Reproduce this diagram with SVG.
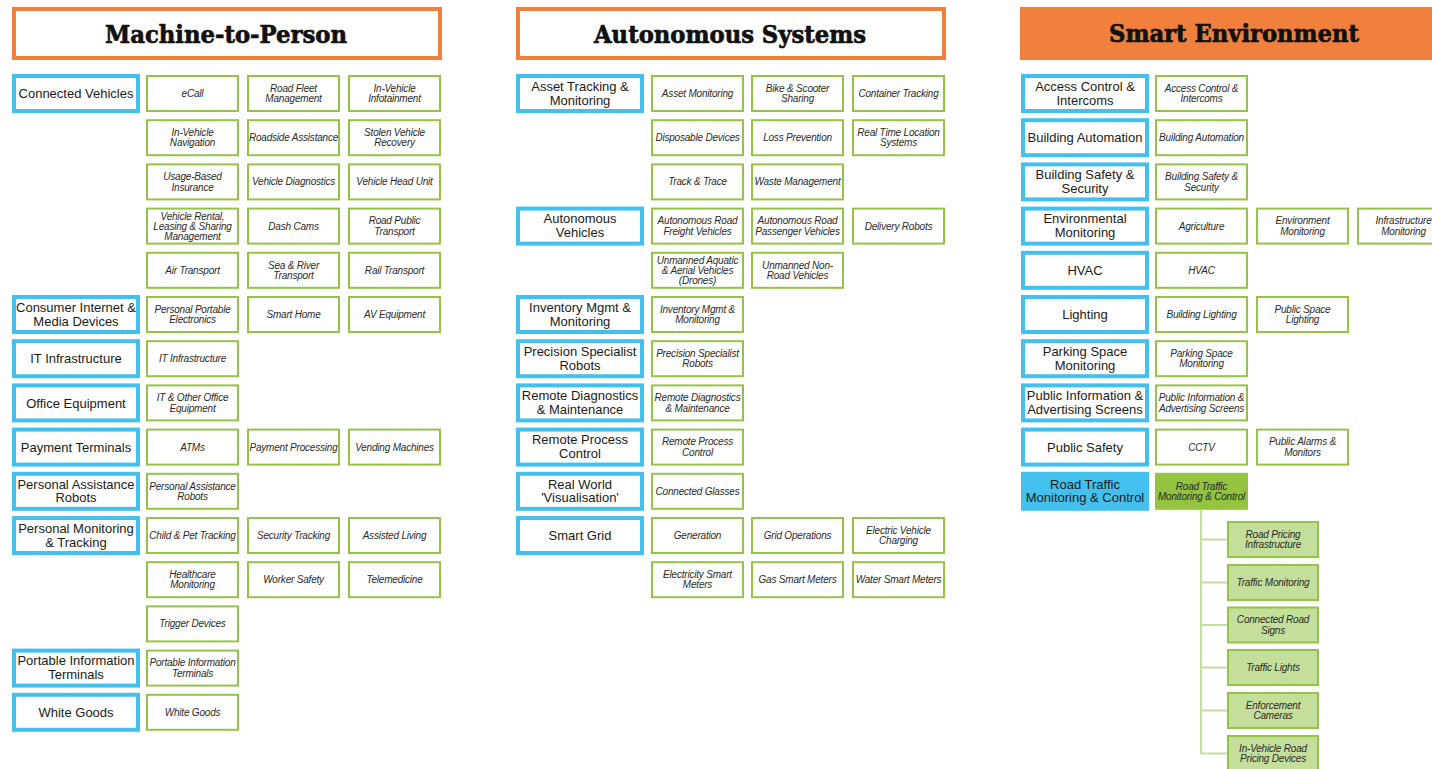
<svg xmlns="http://www.w3.org/2000/svg" width="1432" height="769" viewBox="0 0 1432 769">
<style>
.hdo{fill:#fff;stroke:#F0803C;stroke-width:4}
.hdf{fill:#F0803C;stroke:none}
.ht{font-family:"DejaVu Serif","Liberation Serif",serif;font-weight:bold;font-size:24px;fill:#111;stroke:#111;stroke-width:0.7;text-anchor:middle}
.cat rect{fill:#fff;stroke:#44C0EE;stroke-width:4}
.ct{font-family:"Liberation Sans",Arial,sans-serif;font-size:13px;fill:#1a1a1a;text-anchor:middle}
.sub rect{fill:#fff;stroke:#93C447;stroke-width:2}
.st{font-family:"Liberation Sans",Arial,sans-serif;font-style:italic;font-size:10px;letter-spacing:-0.2px;fill:#2a2a2a;text-anchor:middle}
.catf rect{fill:#44C0EE;stroke:none}
.subf rect{fill:#93C33F;stroke:none}
.subl rect{fill:#C4DF9B;stroke:#93C447;stroke-width:2}
.conn line{stroke:#C4DF9B;stroke-width:2}
</style>
<rect width="1432" height="769" fill="#fff"/>
<g id="hdr-m2p"><rect class="hdo" x="14" y="9" width="426" height="49"/><text class="ht" x="226" y="42.5" textLength="242" lengthAdjust="spacingAndGlyphs">Machine-to-Person</text></g>
<g id="hdr-auto"><rect class="hdo" x="518" y="9" width="426" height="49"/><text class="ht" x="730" y="42.5" textLength="272" lengthAdjust="spacingAndGlyphs">Autonomous Systems</text></g>
<g id="hdr-env"><rect class="hdf" x="1020" y="7" width="430" height="53"/><text class="ht" x="1234" y="42" textLength="250" lengthAdjust="spacingAndGlyphs">Smart Environment</text></g>

<!-- Column 1 categories -->
<g id="c1-connected-vehicles" class="cat" transform="translate(12,75)"><rect x="2" y="1" width="124" height="35"/><text class="ct" x="64" y="23.2">Connected Vehicles</text></g>
<g id="c1-consumer" class="cat" transform="translate(12,296)"><rect x="2" y="1" width="124" height="35"/><text class="ct"><tspan x="64" y="15.8">Consumer Internet &amp;</tspan><tspan x="64" y="29.5">Media Devices</tspan></text></g>
<g id="c1-it-infra" class="cat" transform="translate(12,340.2)"><rect x="2" y="1" width="124" height="35"/><text class="ct" x="64" y="23.2">IT Infrastructure</text></g>
<g id="c1-office" class="cat" transform="translate(12,384.4)"><rect x="2" y="1" width="124" height="35"/><text class="ct" x="64" y="23.2">Office Equipment</text></g>
<g id="c1-payment" class="cat" transform="translate(12,428.6)"><rect x="2" y="1" width="124" height="35"/><text class="ct" x="64" y="23.2">Payment Terminals</text></g>
<g id="c1-pers-assist" class="cat" transform="translate(12,472.8)"><rect x="2" y="1" width="124" height="35"/><text class="ct"><tspan x="64" y="15.8">Personal Assistance</tspan><tspan x="64" y="29.5">Robots</tspan></text></g>
<g id="c1-pers-monitor" class="cat" transform="translate(12,517)"><rect x="2" y="1" width="124" height="35"/><text class="ct"><tspan x="64" y="15.8">Personal Monitoring</tspan><tspan x="64" y="29.5">&amp; Tracking</tspan></text></g>
<g id="c1-portable" class="cat" transform="translate(12,649.6)"><rect x="2" y="1" width="124" height="35"/><text class="ct"><tspan x="64" y="15.8">Portable Information</tspan><tspan x="64" y="29.5">Terminals</tspan></text></g>
<g id="c1-white-goods" class="cat" transform="translate(12,693.8)"><rect x="2" y="1" width="124" height="35"/><text class="ct" x="64" y="23.2">White Goods</text></g>

<!-- Column 1 sub items -->
<g id="s1-ecall" class="sub" transform="translate(146,75)"><rect x="1" y="1" width="91" height="35"/><text class="st" x="46.5" y="22">eCall</text></g>
<g id="s1-road-fleet" class="sub" transform="translate(247,75)"><rect x="1" y="1" width="91" height="35"/><text class="st"><tspan x="46.5" y="16.8">Road Fleet</tspan><tspan x="46.5" y="27.3">Management</tspan></text></g>
<g id="s1-infotainment" class="sub" transform="translate(348,75)"><rect x="1" y="1" width="91" height="35"/><text class="st"><tspan x="46.5" y="16.8">In-Vehicle</tspan><tspan x="46.5" y="27.3">Infotainment</tspan></text></g>
<g id="s1-navigation" class="sub" transform="translate(146,119.2)"><rect x="1" y="1" width="91" height="35"/><text class="st"><tspan x="46.5" y="16.8">In-Vehicle</tspan><tspan x="46.5" y="27.3">Navigation</tspan></text></g>
<g id="s1-roadside" class="sub" transform="translate(247,119.2)"><rect x="1" y="1" width="91" height="35"/><text class="st" x="46.5" y="22">Roadside Assistance</text></g>
<g id="s1-stolen" class="sub" transform="translate(348,119.2)"><rect x="1" y="1" width="91" height="35"/><text class="st"><tspan x="46.5" y="16.8">Stolen Vehicle</tspan><tspan x="46.5" y="27.3">Recovery</tspan></text></g>
<g id="s1-ubi" class="sub" transform="translate(146,163.4)"><rect x="1" y="1" width="91" height="35"/><text class="st"><tspan x="46.5" y="16.8">Usage-Based</tspan><tspan x="46.5" y="27.3">Insurance</tspan></text></g>
<g id="s1-diag" class="sub" transform="translate(247,163.4)"><rect x="1" y="1" width="91" height="35"/><text class="st" x="46.5" y="22">Vehicle Diagnostics</text></g>
<g id="s1-headunit" class="sub" transform="translate(348,163.4)"><rect x="1" y="1" width="91" height="35"/><text class="st" x="46.5" y="22">Vehicle Head Unit</text></g>
<g id="s1-rental" class="sub" transform="translate(146,207.6)"><rect x="1" y="1" width="91" height="35"/><text class="st"><tspan x="46.5" y="12.4">Vehicle Rental,</tspan><tspan x="46.5" y="22.2">Leasing &amp; Sharing</tspan><tspan x="46.5" y="32">Management</tspan></text></g>
<g id="s1-dashcams" class="sub" transform="translate(247,207.6)"><rect x="1" y="1" width="91" height="35"/><text class="st" x="46.5" y="22">Dash Cams</text></g>
<g id="s1-roadpublic" class="sub" transform="translate(348,207.6)"><rect x="1" y="1" width="91" height="35"/><text class="st"><tspan x="46.5" y="16.8">Road Public</tspan><tspan x="46.5" y="27.3">Transport</tspan></text></g>
<g id="s1-air" class="sub" transform="translate(146,251.8)"><rect x="1" y="1" width="91" height="35"/><text class="st" x="46.5" y="22">Air Transport</text></g>
<g id="s1-sea" class="sub" transform="translate(247,251.8)"><rect x="1" y="1" width="91" height="35"/><text class="st"><tspan x="46.5" y="16.8">Sea &amp; River</tspan><tspan x="46.5" y="27.3">Transport</tspan></text></g>
<g id="s1-rail" class="sub" transform="translate(348,251.8)"><rect x="1" y="1" width="91" height="35"/><text class="st" x="46.5" y="22">Rail Transport</text></g>
<g id="s1-ppe" class="sub" transform="translate(146,296)"><rect x="1" y="1" width="91" height="35"/><text class="st"><tspan x="46.5" y="16.8">Personal Portable</tspan><tspan x="46.5" y="27.3">Electronics</tspan></text></g>
<g id="s1-smarthome" class="sub" transform="translate(247,296)"><rect x="1" y="1" width="91" height="35"/><text class="st" x="46.5" y="22">Smart Home</text></g>
<g id="s1-av" class="sub" transform="translate(348,296)"><rect x="1" y="1" width="91" height="35"/><text class="st" x="46.5" y="22">AV Equipment</text></g>
<g id="s1-itinfra" class="sub" transform="translate(146,340.2)"><rect x="1" y="1" width="91" height="35"/><text class="st" x="46.5" y="22">IT Infrastructure</text></g>
<g id="s1-office" class="sub" transform="translate(146,384.4)"><rect x="1" y="1" width="91" height="35"/><text class="st"><tspan x="46.5" y="16.8">IT &amp; Other Office</tspan><tspan x="46.5" y="27.3">Equipment</tspan></text></g>
<g id="s1-atms" class="sub" transform="translate(146,428.6)"><rect x="1" y="1" width="91" height="35"/><text class="st" x="46.5" y="22">ATMs</text></g>
<g id="s1-payproc" class="sub" transform="translate(247,428.6)"><rect x="1" y="1" width="91" height="35"/><text class="st" x="46.5" y="22">Payment Processing</text></g>
<g id="s1-vending" class="sub" transform="translate(348,428.6)"><rect x="1" y="1" width="91" height="35"/><text class="st" x="46.5" y="22">Vending Machines</text></g>
<g id="s1-persassist" class="sub" transform="translate(146,472.8)"><rect x="1" y="1" width="91" height="35"/><text class="st"><tspan x="46.5" y="16.8">Personal Assistance</tspan><tspan x="46.5" y="27.3">Robots</tspan></text></g>
<g id="s1-childpet" class="sub" transform="translate(146,517)"><rect x="1" y="1" width="91" height="35"/><text class="st" x="46.5" y="22">Child &amp; Pet Tracking</text></g>
<g id="s1-security" class="sub" transform="translate(247,517)"><rect x="1" y="1" width="91" height="35"/><text class="st" x="46.5" y="22">Security Tracking</text></g>
<g id="s1-assisted" class="sub" transform="translate(348,517)"><rect x="1" y="1" width="91" height="35"/><text class="st" x="46.5" y="22">Assisted Living</text></g>
<g id="s1-healthcare" class="sub" transform="translate(146,561.2)"><rect x="1" y="1" width="91" height="35"/><text class="st"><tspan x="46.5" y="16.8">Healthcare</tspan><tspan x="46.5" y="27.3">Monitoring</tspan></text></g>
<g id="s1-worker" class="sub" transform="translate(247,561.2)"><rect x="1" y="1" width="91" height="35"/><text class="st" x="46.5" y="22">Worker Safety</text></g>
<g id="s1-telemed" class="sub" transform="translate(348,561.2)"><rect x="1" y="1" width="91" height="35"/><text class="st" x="46.5" y="22">Telemedicine</text></g>
<g id="s1-trigger" class="sub" transform="translate(146,605.4)"><rect x="1" y="1" width="91" height="35"/><text class="st" x="46.5" y="22">Trigger Devices</text></g>
<g id="s1-portable" class="sub" transform="translate(146,649.6)"><rect x="1" y="1" width="91" height="35"/><text class="st"><tspan x="46.5" y="16.8">Portable Information</tspan><tspan x="46.5" y="27.3">Terminals</tspan></text></g>
<g id="s1-whitegoods" class="sub" transform="translate(146,693.8)"><rect x="1" y="1" width="91" height="35"/><text class="st" x="46.5" y="22">White Goods</text></g>

<!-- Column 2 categories -->
<g id="c2-asset" class="cat" transform="translate(516,75)"><rect x="2" y="1" width="124" height="35"/><text class="ct"><tspan x="64" y="15.8">Asset Tracking &amp;</tspan><tspan x="64" y="29.5">Monitoring</tspan></text></g>
<g id="c2-autonomous" class="cat" transform="translate(516,207.6)"><rect x="2" y="1" width="124" height="35"/><text class="ct"><tspan x="64" y="15.8">Autonomous</tspan><tspan x="64" y="29.5">Vehicles</tspan></text></g>
<g id="c2-inventory" class="cat" transform="translate(516,296)"><rect x="2" y="1" width="124" height="35"/><text class="ct"><tspan x="64" y="15.8">Inventory Mgmt &amp;</tspan><tspan x="64" y="29.5">Monitoring</tspan></text></g>
<g id="c2-precision" class="cat" transform="translate(516,340.2)"><rect x="2" y="1" width="124" height="35"/><text class="ct"><tspan x="64" y="15.8">Precision Specialist</tspan><tspan x="64" y="29.5">Robots</tspan></text></g>
<g id="c2-remotediag" class="cat" transform="translate(516,384.4)"><rect x="2" y="1" width="124" height="35"/><text class="ct"><tspan x="64" y="15.8">Remote Diagnostics</tspan><tspan x="64" y="29.5">&amp; Maintenance</tspan></text></g>
<g id="c2-remoteproc" class="cat" transform="translate(516,428.6)"><rect x="2" y="1" width="124" height="35"/><text class="ct"><tspan x="64" y="15.8">Remote Process</tspan><tspan x="64" y="29.5">Control</tspan></text></g>
<g id="c2-realworld" class="cat" transform="translate(516,472.8)"><rect x="2" y="1" width="124" height="35"/><text class="ct"><tspan x="64" y="15.8">Real World</tspan><tspan x="64" y="29.5">'Visualisation'</tspan></text></g>
<g id="c2-smartgrid" class="cat" transform="translate(516,517)"><rect x="2" y="1" width="124" height="35"/><text class="ct" x="64" y="23.2">Smart Grid</text></g>

<!-- Column 2 sub items -->
<g id="s2-assetmon" class="sub" transform="translate(651,75)"><rect x="1" y="1" width="91" height="35"/><text class="st" x="46.5" y="22">Asset Monitoring</text></g>
<g id="s2-bike" class="sub" transform="translate(751,75)"><rect x="1" y="1" width="91" height="35"/><text class="st"><tspan x="46.5" y="16.8">Bike &amp; Scooter</tspan><tspan x="46.5" y="27.3">Sharing</tspan></text></g>
<g id="s2-container" class="sub" transform="translate(852,75)"><rect x="1" y="1" width="91" height="35"/><text class="st" x="46.5" y="22">Container Tracking</text></g>
<g id="s2-disposable" class="sub" transform="translate(651,119.2)"><rect x="1" y="1" width="91" height="35"/><text class="st" x="46.5" y="22">Disposable Devices</text></g>
<g id="s2-loss" class="sub" transform="translate(751,119.2)"><rect x="1" y="1" width="91" height="35"/><text class="st" x="46.5" y="22">Loss Prevention</text></g>
<g id="s2-rtls" class="sub" transform="translate(852,119.2)"><rect x="1" y="1" width="91" height="35"/><text class="st"><tspan x="46.5" y="16.8">Real Time Location</tspan><tspan x="46.5" y="27.3">Systems</tspan></text></g>
<g id="s2-track" class="sub" transform="translate(651,163.4)"><rect x="1" y="1" width="91" height="35"/><text class="st" x="46.5" y="22">Track &amp; Trace</text></g>
<g id="s2-waste" class="sub" transform="translate(751,163.4)"><rect x="1" y="1" width="91" height="35"/><text class="st" x="46.5" y="22">Waste Management</text></g>
<g id="s2-freight" class="sub" transform="translate(651,207.6)"><rect x="1" y="1" width="91" height="35"/><text class="st"><tspan x="46.5" y="16.8">Autonomous Road</tspan><tspan x="46.5" y="27.3">Freight Vehicles</tspan></text></g>
<g id="s2-passenger" class="sub" transform="translate(751,207.6)"><rect x="1" y="1" width="91" height="35"/><text class="st"><tspan x="46.5" y="16.8">Autonomous Road</tspan><tspan x="46.5" y="27.3">Passenger Vehicles</tspan></text></g>
<g id="s2-delivery" class="sub" transform="translate(852,207.6)"><rect x="1" y="1" width="91" height="35"/><text class="st" x="46.5" y="22">Delivery Robots</text></g>
<g id="s2-drones" class="sub" transform="translate(651,251.8)"><rect x="1" y="1" width="91" height="35"/><text class="st"><tspan x="46.5" y="12.4">Unmanned Aquatic</tspan><tspan x="46.5" y="22.2">&amp; Aerial Vehicles</tspan><tspan x="46.5" y="32">(Drones)</tspan></text></g>
<g id="s2-nonroad" class="sub" transform="translate(751,251.8)"><rect x="1" y="1" width="91" height="35"/><text class="st"><tspan x="46.5" y="16.8">Unmanned Non-</tspan><tspan x="46.5" y="27.3">Road Vehicles</tspan></text></g>
<g id="s2-inventory" class="sub" transform="translate(651,296)"><rect x="1" y="1" width="91" height="35"/><text class="st"><tspan x="46.5" y="16.8">Inventory Mgmt &amp;</tspan><tspan x="46.5" y="27.3">Monitoring</tspan></text></g>
<g id="s2-precision" class="sub" transform="translate(651,340.2)"><rect x="1" y="1" width="91" height="35"/><text class="st"><tspan x="46.5" y="16.8">Precision Specialist</tspan><tspan x="46.5" y="27.3">Robots</tspan></text></g>
<g id="s2-remotediag" class="sub" transform="translate(651,384.4)"><rect x="1" y="1" width="91" height="35"/><text class="st"><tspan x="46.5" y="16.8">Remote Diagnostics</tspan><tspan x="46.5" y="27.3">&amp; Maintenance</tspan></text></g>
<g id="s2-remoteproc" class="sub" transform="translate(651,428.6)"><rect x="1" y="1" width="91" height="35"/><text class="st"><tspan x="46.5" y="16.8">Remote Process</tspan><tspan x="46.5" y="27.3">Control</tspan></text></g>
<g id="s2-glasses" class="sub" transform="translate(651,472.8)"><rect x="1" y="1" width="91" height="35"/><text class="st" x="46.5" y="22">Connected Glasses</text></g>
<g id="s2-generation" class="sub" transform="translate(651,517)"><rect x="1" y="1" width="91" height="35"/><text class="st" x="46.5" y="22">Generation</text></g>
<g id="s2-gridops" class="sub" transform="translate(751,517)"><rect x="1" y="1" width="91" height="35"/><text class="st" x="46.5" y="22">Grid Operations</text></g>
<g id="s2-evcharging" class="sub" transform="translate(852,517)"><rect x="1" y="1" width="91" height="35"/><text class="st"><tspan x="46.5" y="16.8">Electric Vehicle</tspan><tspan x="46.5" y="27.3">Charging</tspan></text></g>
<g id="s2-elecmeters" class="sub" transform="translate(651,561.2)"><rect x="1" y="1" width="91" height="35"/><text class="st"><tspan x="46.5" y="16.8">Electricity Smart</tspan><tspan x="46.5" y="27.3">Meters</tspan></text></g>
<g id="s2-gasmeters" class="sub" transform="translate(751,561.2)"><rect x="1" y="1" width="91" height="35"/><text class="st" x="46.5" y="22">Gas Smart Meters</text></g>
<g id="s2-watermeters" class="sub" transform="translate(852,561.2)"><rect x="1" y="1" width="91" height="35"/><text class="st" x="46.5" y="22">Water Smart Meters</text></g>

<!-- Column 3 categories -->
<g id="c3-access" class="cat" transform="translate(1021,75)"><rect x="2" y="1" width="124" height="35"/><text class="ct"><tspan x="64" y="15.8">Access Control &amp;</tspan><tspan x="64" y="29.5">Intercoms</tspan></text></g>
<g id="c3-buildauto" class="cat" transform="translate(1021,119.2)"><rect x="2" y="1" width="124" height="35"/><text class="ct" x="64" y="23.2">Building Automation</text></g>
<g id="c3-buildsafety" class="cat" transform="translate(1021,163.4)"><rect x="2" y="1" width="124" height="35"/><text class="ct"><tspan x="64" y="15.8">Building Safety &amp;</tspan><tspan x="64" y="29.5">Security</tspan></text></g>
<g id="c3-envmon" class="cat" transform="translate(1021,207.6)"><rect x="2" y="1" width="124" height="35"/><text class="ct"><tspan x="64" y="15.8">Environmental</tspan><tspan x="64" y="29.5">Monitoring</tspan></text></g>
<g id="c3-hvac" class="cat" transform="translate(1021,251.8)"><rect x="2" y="1" width="124" height="35"/><text class="ct" x="64" y="23.2">HVAC</text></g>
<g id="c3-lighting" class="cat" transform="translate(1021,296)"><rect x="2" y="1" width="124" height="35"/><text class="ct" x="64" y="23.2">Lighting</text></g>
<g id="c3-parking" class="cat" transform="translate(1021,340.2)"><rect x="2" y="1" width="124" height="35"/><text class="ct"><tspan x="64" y="15.8">Parking Space</tspan><tspan x="64" y="29.5">Monitoring</tspan></text></g>
<g id="c3-publicinfo" class="cat" transform="translate(1021,384.4)"><rect x="2" y="1" width="124" height="35"/><text class="ct"><tspan x="64" y="15.8">Public Information &amp;</tspan><tspan x="64" y="29.5">Advertising Screens</tspan></text></g>
<g id="c3-publicsafety" class="cat" transform="translate(1021,428.6)"><rect x="2" y="1" width="124" height="35"/><text class="ct" x="64" y="23.2">Public Safety</text></g>
<g id="c3-roadtraffic" class="catf" transform="translate(1021,472.8)"><rect x="0" y="-1" width="128" height="39"/><text class="ct"><tspan x="64" y="15.8">Road Traffic</tspan><tspan x="64" y="29.5">Monitoring &amp; Control</tspan></text></g>

<!-- Column 3 sub items -->
<g id="s3-access" class="sub" transform="translate(1155,75)"><rect x="1" y="1" width="91" height="35"/><text class="st"><tspan x="46.5" y="16.8">Access Control &amp;</tspan><tspan x="46.5" y="27.3">Intercoms</tspan></text></g>
<g id="s3-buildauto" class="sub" transform="translate(1155,119.2)"><rect x="1" y="1" width="91" height="35"/><text class="st" x="46.5" y="22">Building Automation</text></g>
<g id="s3-buildsafety" class="sub" transform="translate(1155,163.4)"><rect x="1" y="1" width="91" height="35"/><text class="st"><tspan x="46.5" y="16.8">Building Safety &amp;</tspan><tspan x="46.5" y="27.3">Security</tspan></text></g>
<g id="s3-agri" class="sub" transform="translate(1155,207.6)"><rect x="1" y="1" width="91" height="35"/><text class="st" x="46.5" y="22">Agriculture</text></g>
<g id="s3-envmon" class="sub" transform="translate(1256,207.6)"><rect x="1" y="1" width="91" height="35"/><text class="st"><tspan x="46.5" y="16.8">Environment</tspan><tspan x="46.5" y="27.3">Monitoring</tspan></text></g>
<g id="s3-inframon" class="sub" transform="translate(1357,207.6)"><rect x="1" y="1" width="91" height="35"/><text class="st"><tspan x="46.5" y="16.8">Infrastructure</tspan><tspan x="46.5" y="27.3">Monitoring</tspan></text></g>
<g id="s3-hvac" class="sub" transform="translate(1155,251.8)"><rect x="1" y="1" width="91" height="35"/><text class="st" x="46.5" y="22">HVAC</text></g>
<g id="s3-buildlight" class="sub" transform="translate(1155,296)"><rect x="1" y="1" width="91" height="35"/><text class="st" x="46.5" y="22">Building Lighting</text></g>
<g id="s3-publight" class="sub" transform="translate(1256,296)"><rect x="1" y="1" width="91" height="35"/><text class="st"><tspan x="46.5" y="16.8">Public Space</tspan><tspan x="46.5" y="27.3">Lighting</tspan></text></g>
<g id="s3-parking" class="sub" transform="translate(1155,340.2)"><rect x="1" y="1" width="91" height="35"/><text class="st"><tspan x="46.5" y="16.8">Parking Space</tspan><tspan x="46.5" y="27.3">Monitoring</tspan></text></g>
<g id="s3-publicinfo" class="sub" transform="translate(1155,384.4)"><rect x="1" y="1" width="91" height="35"/><text class="st"><tspan x="46.5" y="16.8">Public Information &amp;</tspan><tspan x="46.5" y="27.3">Advertising Screens</tspan></text></g>
<g id="s3-cctv" class="sub" transform="translate(1155,428.6)"><rect x="1" y="1" width="91" height="35"/><text class="st" x="46.5" y="22">CCTV</text></g>
<g id="s3-alarms" class="sub" transform="translate(1256,428.6)"><rect x="1" y="1" width="91" height="35"/><text class="st"><tspan x="46.5" y="16.8">Public Alarms &amp;</tspan><tspan x="46.5" y="27.3">Monitors</tspan></text></g>
<g id="s3-roadtraffic" class="subf" transform="translate(1155,472.8)"><rect x="0" y="0" width="93" height="37"/><text class="st"><tspan x="46.5" y="16.8">Road Traffic</tspan><tspan x="46.5" y="27.3">Monitoring &amp; Control</tspan></text></g>

<!-- Connectors -->
<g id="connectors" class="conn">
<line x1="1201" y1="510" x2="1201" y2="754"/>
<line x1="1201" y1="539.5" x2="1227" y2="539.5"/>
<line x1="1201" y1="582.5" x2="1227" y2="582.5"/>
<line x1="1201" y1="625" x2="1227" y2="625"/>
<line x1="1201" y1="667.5" x2="1227" y2="667.5"/>
<line x1="1201" y1="710.5" x2="1227" y2="710.5"/>
<line x1="1201" y1="753.5" x2="1227" y2="753.5"/>
</g>

<!-- Road traffic children -->
<g id="r-pricing" class="subl" transform="translate(1227,521)"><rect x="1" y="1" width="90" height="35"/><text class="st"><tspan x="46" y="16.8">Road Pricing</tspan><tspan x="46" y="27.3">Infrastructure</tspan></text></g>
<g id="r-trafficmon" class="subl" transform="translate(1227,564)"><rect x="1" y="1" width="90" height="35"/><text class="st" x="46" y="22">Traffic Monitoring</text></g>
<g id="r-signs" class="subl" transform="translate(1227,606.5)"><rect x="1" y="1" width="90" height="35"/><text class="st"><tspan x="46" y="16.8">Connected Road</tspan><tspan x="46" y="27.3">Signs</tspan></text></g>
<g id="r-lights" class="subl" transform="translate(1227,649)"><rect x="1" y="1" width="90" height="35"/><text class="st" x="46" y="22">Traffic Lights</text></g>
<g id="r-cameras" class="subl" transform="translate(1227,692)"><rect x="1" y="1" width="90" height="35"/><text class="st"><tspan x="46" y="16.8">Enforcement</tspan><tspan x="46" y="27.3">Cameras</tspan></text></g>
<g id="r-invehicle" class="subl" transform="translate(1227,735)"><rect x="1" y="1" width="90" height="35"/><text class="st"><tspan x="46" y="16.8">In-Vehicle Road</tspan><tspan x="46" y="27.3">Pricing Devices</tspan></text></g>
</svg>
